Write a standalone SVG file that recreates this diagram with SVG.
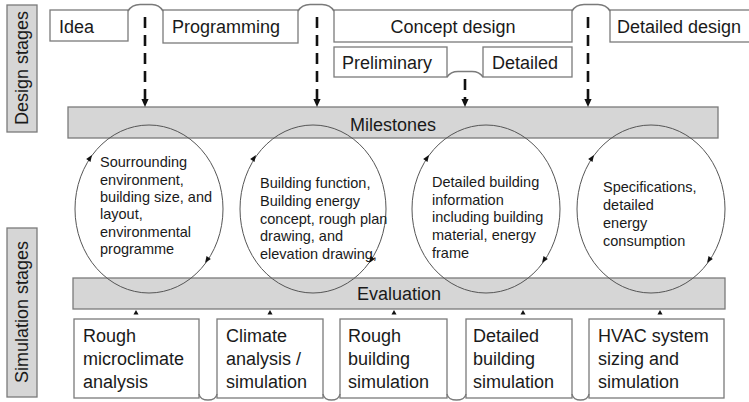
<svg xmlns="http://www.w3.org/2000/svg" width="749" height="402" viewBox="0 0 749 402">
<style>
text{font-family:"Liberation Sans",Arial,sans-serif;fill:#1a1a1a}
.big{font-size:18px}
.sm{font-size:14.5px}
.box{fill:#fff;stroke:#7a7a7a;stroke-width:1.3}
.bar{fill:#d6d6d6;stroke:#7a7a7a;stroke-width:1.3}
.ell{fill:none;stroke:#555;stroke-width:1}
.dash{stroke:#111;stroke-width:2.6;stroke-dasharray:11 7;fill:none}
.hop{fill:none;stroke:#7a7a7a;stroke-width:1.5}
.ah{fill:#111}
</style>
<defs>
<path id="ah" d="M3.5,0 L-3,-2.6 L-3,2.6 Z"/>
<path id="dh" d="M0,0 L-3.6,-8 L3.6,-8 Z"/>
</defs>

<g id="label-design">
<rect class="bar" x="7" y="5" width="30" height="127"/>
<text class="big" text-anchor="middle" transform="translate(28,68) rotate(-90)">Design stages</text>
</g>
<g id="label-simulation">
<rect class="bar" x="7" y="228" width="30" height="169"/>
<text class="big" text-anchor="middle" transform="translate(28,312) rotate(-90)">Simulation stages</text>
</g>

<g id="idea"><rect class="box" x="50" y="10" width="78" height="31"/><text class="big" x="59" y="33">Idea</text></g>
<g id="programming"><rect class="box" x="163" y="10" width="135" height="33"/><text class="big" x="172" y="33">Programming</text></g>
<g id="concept"><rect class="box" x="334" y="10" width="238" height="32"/><text class="big" x="453" y="33" text-anchor="middle">Concept design</text></g>
<g id="detailed-design"><rect class="box" x="610" y="10" width="145" height="32"/><text class="big" x="617" y="33">Detailed design</text></g>
<g id="preliminary"><rect class="box" x="334" y="47" width="113" height="30"/><text class="big" x="342" y="69">Preliminary</text></g>
<g id="detailed"><rect class="box" x="483" y="47" width="89" height="30"/><text class="big" x="492" y="69">Detailed</text></g>

<g id="milestones"><rect class="bar" x="68" y="107" width="650" height="31"/><text class="big" x="393" y="131" text-anchor="middle">Milestones</text></g>
<g id="evaluation"><rect class="bar" x="73" y="278" width="652" height="31"/><text class="big" x="399" y="300" text-anchor="middle">Evaluation</text></g>

<g id="cycle1">
<ellipse class="ell" cx="149" cy="209" rx="74" ry="84"/>
<text class="sm"><tspan x="100" y="167">Sourrounding</tspan><tspan x="100" y="185">environment,</tspan><tspan x="100" y="202">building size, and</tspan><tspan x="100" y="219">layout,</tspan><tspan x="100" y="237">environmental</tspan><tspan x="100" y="254">programme</tspan></text>
</g>
<g id="cycle2">
<ellipse class="ell" cx="313" cy="209" rx="73" ry="84"/>
<text class="sm"><tspan x="260" y="188">Building function,</tspan><tspan x="260" y="206">Building energy</tspan><tspan x="260" y="224">concept, rough plan</tspan><tspan x="260" y="241">drawing, and</tspan><tspan x="260" y="259">elevation drawing,</tspan></text>
</g>
<g id="cycle3">
<ellipse class="ell" cx="486" cy="209" rx="74" ry="84"/>
<text class="sm"><tspan x="432" y="187">Detailed building</tspan><tspan x="432" y="205">information</tspan><tspan x="432" y="222">including building</tspan><tspan x="432" y="240">material, energy</tspan><tspan x="432" y="258">frame</tspan></text>
</g>
<g id="cycle4">
<ellipse class="ell" cx="651" cy="209" rx="74" ry="84"/>
<text class="sm"><tspan x="603" y="192">Specifications,</tspan><tspan x="603" y="210">detailed</tspan><tspan x="603" y="228">energy</tspan><tspan x="603" y="246">consumption</tspan></text>
</g>

<g id="sim1"><rect class="box" x="74" y="319" width="125" height="79"/><text class="big"><tspan x="83" y="342">Rough</tspan><tspan x="83" y="365">microclimate</tspan><tspan x="83" y="388">analysis</tspan></text></g>
<g id="sim2"><rect class="box" x="217" y="319" width="106" height="79"/><text class="big"><tspan x="226" y="342">Climate</tspan><tspan x="226" y="365">analysis /</tspan><tspan x="226" y="388">simulation</tspan></text></g>
<g id="sim3"><rect class="box" x="340" y="319" width="107" height="79"/><text class="big"><tspan x="348" y="342">Rough</tspan><tspan x="348" y="365">building</tspan><tspan x="348" y="388">simulation</tspan></text></g>
<g id="sim4"><rect class="box" x="466" y="319" width="106" height="79"/><text class="big"><tspan x="473" y="342">Detailed</tspan><tspan x="473" y="365">building</tspan><tspan x="473" y="388">simulation</tspan></text></g>
<g id="sim5"><rect class="box" x="589" y="319" width="135" height="79"/><text class="big"><tspan x="598" y="342">HVAC system</tspan><tspan x="598" y="365">sizing and</tspan><tspan x="598" y="388">simulation</tspan></text></g>

<g id="connectors">
<path class="hop" d="M128,11 C131,6 135,4.5 140,4.5 L152,4.5 C157,4.5 160,6 163,11"/>
<path class="hop" d="M298,11 C301,6 305,4.5 310,4.5 L322,4.5 C327,4.5 331,6 334,11"/>
<path class="hop" d="M572,11 C575,6 579,4.5 584,4.5 L598,4.5 C603,4.5 607,6 610,11"/>
<path class="hop" d="M447,77 C450,72.5 454,71.5 458,71.5 L472,71.5 C476,71.5 480,72.5 483,77"/>
<path class="hop" d="M199,394 C200,402 216,402 217,394"/>
<path class="hop" d="M323,394 C324,402 339,402 340,394"/>
<path class="hop" d="M447,394 C448,402 465,402 466,394"/>
<path class="hop" d="M572,394 C573,402 588,402 589,394"/>

<line class="dash" x1="145" y1="17" x2="145" y2="99"/>
<use href="#dh" class="ah" x="145" y="107"/>
<line class="dash" x1="317" y1="17" x2="317" y2="99"/>
<use href="#dh" class="ah" x="317" y="107"/>
<line class="dash" x1="465" y1="79" x2="465" y2="99"/>
<use href="#dh" class="ah" x="465" y="107"/>
<line class="dash" x1="588" y1="17" x2="588" y2="99"/>
<use href="#dh" class="ah" x="588" y="107"/>

<use href="#ah" class="ah" transform="translate(90,158) rotate(-56)"/>
<use href="#ah" class="ah" transform="translate(207,260) rotate(124)"/>
<use href="#ah" class="ah" transform="translate(254,158) rotate(-56)"/>
<use href="#ah" class="ah" transform="translate(371,260) rotate(124)"/>
<use href="#ah" class="ah" transform="translate(427,158) rotate(-56)"/>
<use href="#ah" class="ah" transform="translate(544,260) rotate(124)"/>
<use href="#ah" class="ah" transform="translate(592,158) rotate(-56)"/>
<use href="#ah" class="ah" transform="translate(709,260) rotate(124)"/>

<path class="ah" d="M136,310 L133.5,314.5 L138.5,314.5 Z"/>
<path class="ah" d="M270,310 L267.5,314.5 L272.5,314.5 Z"/>
<path class="ah" d="M394,310 L391.5,314.5 L396.5,314.5 Z"/>
<path class="ah" d="M523,310 L520.5,314.5 L525.5,314.5 Z"/>
<path class="ah" d="M660,310 L657.5,314.5 L662.5,314.5 Z"/>
</g>
</svg>
